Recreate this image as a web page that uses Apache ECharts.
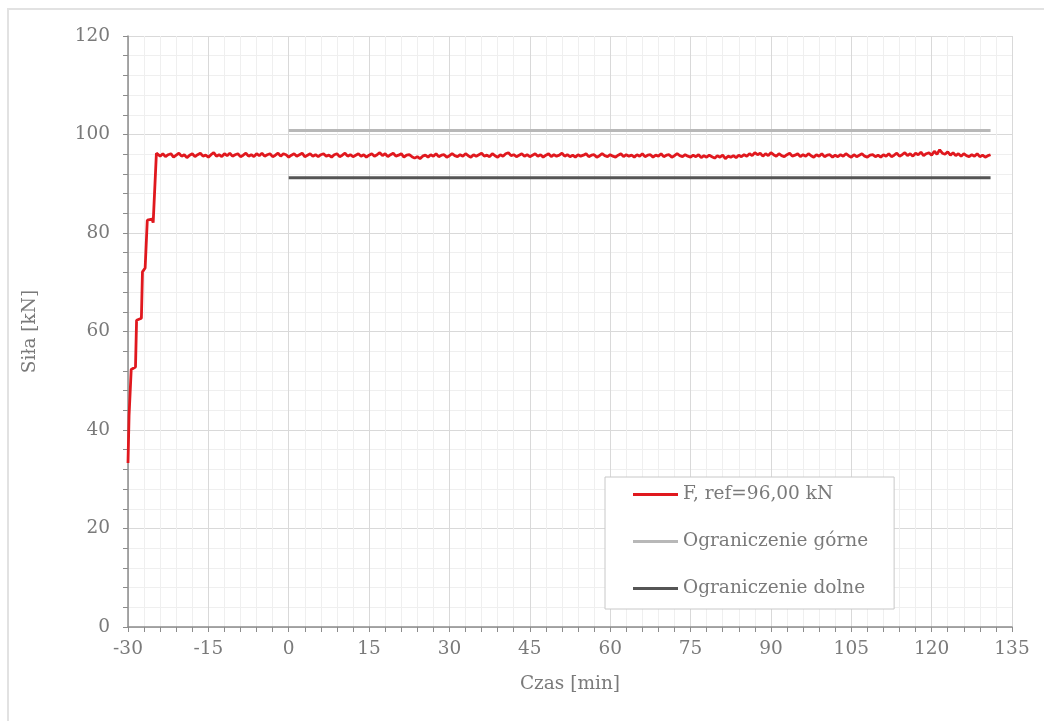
<!DOCTYPE html>
<html>
<head>
<meta charset="utf-8">
<script src="https://cdn.jsdelivr.net/npm/echarts@6/dist/echarts.min.js"></script>
<style>
html,body{margin:0;padding:0;background:#fff;}
#chart{width:1044px;height:721px;}
</style>
</head>
<body>
<div id="chart"></div>
<script>
// ---- data ----
var seriesNames = ['F, ref=96,00 kN', 'Ograniczenie górne', 'Ograniczenie dolne'];
var xTicks = [-30, -15, 0, 15, 30, 45, 60, 75, 90, 105, 120, 135];
var yTicks = [0, 20, 40, 60, 80, 100, 120];

// loading ramp [time min, force kN]
var rampPoints = [[-30,33.3],[-29.8,43.0],[-29.4,52.3],[-28.6,52.8],[-28.4,62.3],[-27.5,62.7],
  [-27.3,72.1],[-26.8,72.9],[-26.4,82.6],[-25.5,82.8],[-25.3,82.1],[-25.0,82.5],[-24.7,96.2]];

// holding phase, readings every 0.5 min from -24.5 to 131
var holdStart = -24.5;
var holdStep = 0.5;
var holdValues = [
96.1,95.6,96.1,95.5,95.9,96.1,95.4,95.8,96.2,95.6,95.9,95.3,95.8,96.1,95.5,95.9,96.2,95.6,95.8,95.4,
95.9,96.3,95.6,95.9,95.5,96.1,95.7,96.2,95.6,95.9,96.1,95.5,95.8,96.2,95.6,95.9,95.5,96.1,95.7,96.2,
95.6,95.9,96.1,95.5,95.8,96.2,95.6,96.1,95.9,95.4,95.8,96.1,95.6,95.9,96.2,95.5,95.8,96.1,95.6,95.9,
95.5,95.9,96.1,95.6,95.8,95.4,95.9,96.1,95.5,95.8,96.2,95.6,95.9,95.5,95.8,96.1,95.6,95.9,95.4,95.8,
96.1,95.6,95.9,96.3,95.7,96.1,95.5,95.9,96.2,95.6,95.8,96.1,95.4,95.8,95.9,95.5,95.2,95.5,95.1,95.6,
95.8,95.4,95.9,95.6,96.1,95.5,95.8,95.9,95.4,95.7,96.1,95.7,95.5,95.9,95.6,96.1,95.7,95.4,95.9,95.6,
95.9,96.2,95.6,95.8,95.5,96.1,95.7,95.4,95.9,95.6,96.1,96.3,95.7,95.9,95.5,95.8,96.1,95.6,95.9,95.5,
95.8,96.1,95.6,95.9,95.4,95.8,96.1,95.5,95.9,95.6,95.8,96.2,95.6,95.9,95.5,95.8,95.4,95.9,95.6,95.8,
96.1,95.5,95.8,95.9,95.4,95.7,96.1,95.7,95.5,95.9,95.6,95.4,95.8,96.1,95.5,95.9,95.6,95.8,95.4,95.9,
95.6,96.1,95.5,95.8,95.9,95.4,95.8,95.6,96.1,95.5,95.8,95.9,95.4,95.7,96.1,95.7,95.5,95.9,95.6,95.4,
95.8,95.5,95.9,95.3,95.7,95.4,95.8,95.5,95.2,95.7,95.4,95.8,95.1,95.6,95.4,95.7,95.3,95.8,95.5,95.9,
95.6,96.1,95.7,96.3,95.9,96.2,95.6,96.1,95.7,96.3,95.9,95.6,96.1,95.7,95.5,95.9,96.2,95.6,95.8,96.1,
95.5,95.9,95.6,96.1,95.7,95.4,95.9,95.6,96.1,95.5,95.8,95.9,95.4,95.8,95.5,95.9,95.6,96.1,95.7,95.4,
95.9,95.5,95.8,96.1,95.6,95.4,95.8,95.9,95.5,95.8,95.4,95.9,95.6,96.1,95.5,95.8,96.2,95.6,95.9,96.3,
95.7,96.1,95.6,96.2,95.9,96.4,95.7,96.1,96.3,95.8,96.6,96.0,96.9,96.2,96.0,96.5,95.8,96.3,95.7,96.1,
95.6,96.1,95.7,95.5,95.9,95.6,96.1,95.5,95.8,95.4,95.7,95.9
];

var upperLimit = [[0,100.8],[131,100.8]];
var lowerLimit = [[0,91.2],[131,91.2]];

// ---- build ----
var forceData = rampPoints.slice();
for (var i = 0; i < holdValues.length; i++) {
  forceData.push([holdStart + i * holdStep, holdValues[i]]);
}

var FONT = 'DejaVu Serif';
var TXT = '#7a7a7a';
var FS = 18.5;
var chart = echarts.init(document.getElementById('chart'), null, {renderer:'canvas'});
chart.setOption({
  animation: false,
  backgroundColor: '#ffffff',
  textStyle: {fontFamily: FONT},
  graphic: [{
    type: 'rect', silent: true, z: -10,
    shape: {x: 8, y: 9, width: 1040, height: 720},
    style: {fill: 'none', stroke: '#e2e2e2', lineWidth: 2}
  }],
  grid: {left: 128, right: 32, top: 36, bottom: 94, containLabel: false},
  xAxis: {
    type: 'value', min: xTicks[0], max: xTicks[xTicks.length-1], interval: 15,
    name: 'Czas [min]', nameLocation: 'middle', nameGap: 48,
    nameTextStyle: {color: TXT, fontSize: FS, fontFamily: FONT},
    axisLine: {show: true, onZero: false, lineStyle: {color: '#8c8c8c', width: 1.5}},
    axisTick: {show: true, length: 5, lineStyle: {color: '#8c8c8c'}},
    minorTick: {show: true, splitNumber: 5, length: 5, lineStyle: {color: '#8c8c8c'}},
    axisLabel: {color: TXT, fontSize: FS, margin: 13, fontFamily: FONT},
    splitLine: {show: true, lineStyle: {color: '#d9d9d9', width: 1}},
    minorSplitLine: {show: true, lineStyle: {color: '#efefef', width: 1}}
  },
  yAxis: {
    type: 'value', min: yTicks[0], max: yTicks[yTicks.length-1], interval: 20,
    name: 'Siła [kN]', nameLocation: 'middle', nameGap: 88,
    nameTextStyle: {color: TXT, fontSize: FS, fontFamily: FONT},
    axisLine: {show: true, onZero: false, lineStyle: {color: '#8c8c8c', width: 1.5}},
    axisTick: {show: true, length: 5, lineStyle: {color: '#8c8c8c'}},
    minorTick: {show: true, splitNumber: 5, length: 5, lineStyle: {color: '#8c8c8c'}},
    axisLabel: {color: TXT, fontSize: FS, margin: 18, fontFamily: FONT},
    splitLine: {show: true, lineStyle: {color: '#d9d9d9', width: 1}},
    minorSplitLine: {show: true, lineStyle: {color: '#efefef', width: 1}}
  },
  legend: {
    orient: 'vertical', left: 605, top: 477,
    data: seriesNames,
    icon: 'rect', itemWidth: 45, itemHeight: 3, itemGap: 28,
    padding: [8, 26, 11, 28],
    backgroundColor: '#ffffff', borderColor: '#c8c8c8', borderWidth: 1,
    textStyle: {color: TXT, fontSize: FS, fontFamily: FONT}
  },
  series: [
    {name: seriesNames[0], type: 'line', data: forceData, showSymbol: false,
     lineStyle: {color: '#e0181e', width: 2.8}, itemStyle: {color: '#e0181e'}, z: 5},
    {name: seriesNames[1], type: 'line', data: upperLimit, showSymbol: false,
     lineStyle: {color: '#b8b8b8', width: 3}, itemStyle: {color: '#b8b8b8'}, z: 4},
    {name: seriesNames[2], type: 'line', data: lowerLimit, showSymbol: false,
     lineStyle: {color: '#555555', width: 3}, itemStyle: {color: '#555555'}, z: 4}
  ]
});
</script>
</body>
</html>
